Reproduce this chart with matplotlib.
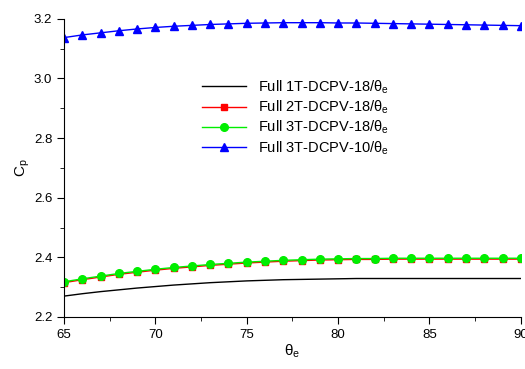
import matplotlib
matplotlib.use("Agg")
import matplotlib.pyplot as plt
import numpy as np
from matplotlib.ticker import MultipleLocator

plt.rcParams['font.family'] = ['Liberation Sans', 'DejaVu Sans']
plt.rcParams['mathtext.fontset'] = 'custom'
plt.rcParams['mathtext.rm'] = 'Liberation Sans'
plt.rcParams['mathtext.it'] = 'Liberation Sans'

# theta_e values (degrees)
theta = list(range(65, 91))

# Cp curves
cp_1t_18 = [2.270, 2.278, 2.285, 2.291, 2.297, 2.302, 2.307, 2.311, 2.315, 2.318,
            2.321, 2.323, 2.325, 2.326, 2.327, 2.328, 2.329, 2.329, 2.329, 2.329,
            2.329, 2.329, 2.329, 2.329, 2.329, 2.329]
cp_2t_18 = [2.315, 2.325, 2.334, 2.343, 2.350, 2.357, 2.363, 2.368, 2.373, 2.377,
            2.381, 2.384, 2.387, 2.389, 2.391, 2.392, 2.393, 2.393, 2.394, 2.394,
            2.394, 2.394, 2.394, 2.394, 2.394, 2.394]
cp_3t_18 = [2.318, 2.328, 2.337, 2.346, 2.353, 2.360, 2.366, 2.371, 2.376, 2.380,
            2.384, 2.387, 2.390, 2.392, 2.394, 2.395, 2.396, 2.396, 2.397, 2.397,
            2.397, 2.397, 2.397, 2.397, 2.397, 2.397]
cp_3t_10 = [3.137, 3.146, 3.153, 3.160, 3.166, 3.171, 3.175, 3.178, 3.181, 3.183,
            3.185, 3.186, 3.187, 3.187, 3.187, 3.186, 3.186, 3.185, 3.184, 3.183,
            3.182, 3.181, 3.180, 3.179, 3.178, 3.177]

labels = ['Full 1T-DCPV-18/$\\theta_e$', 'Full 2T-DCPV-18/$\\theta_e$',
          'Full 3T-DCPV-18/$\\theta_e$', 'Full 3T-DCPV-10/$\\theta_e$']

fig = plt.figure(figsize=(5.25, 3.69), dpi=100)
ax = fig.add_axes([0.122, 0.141, 0.870, 0.808])

ax.plot(theta, cp_1t_18, '-', color='black', lw=1.0, label=labels[0])
ax.plot(theta, cp_2t_18, 's-', color='red', lw=1.0, ms=4.5, label=labels[1])
ax.plot(theta, cp_3t_18, 'o-', color='#00ee00', lw=1.0, ms=5.5, label=labels[2])
ax.plot(theta, cp_3t_10, '^-', color='blue', lw=1.0, ms=6, label=labels[3])

ax.set_xlim(65, 90)
ax.set_ylim(2.2, 3.2)
ax.xaxis.set_major_locator(MultipleLocator(5))
ax.xaxis.set_minor_locator(MultipleLocator(2.5))
ax.yaxis.set_major_locator(MultipleLocator(0.2))
ax.yaxis.set_minor_locator(MultipleLocator(0.1))
ax.spines['top'].set_visible(False)
ax.spines['right'].set_visible(False)
ax.tick_params(which='major', direction='out', length=5, labelsize=9.5)
ax.tick_params(which='minor', direction='out', length=3)

ax.set_xlabel('$\\theta_e$', fontsize=11, labelpad=1)
ax.set_ylabel('C$_p$', fontsize=11, labelpad=1)

ax.legend(loc='upper left', bbox_to_anchor=(0.29, 0.82), frameon=False,
          fontsize=10.5, handlelength=3.0, labelspacing=0.2, borderaxespad=0)

fig.savefig('out.png', dpi=100)
